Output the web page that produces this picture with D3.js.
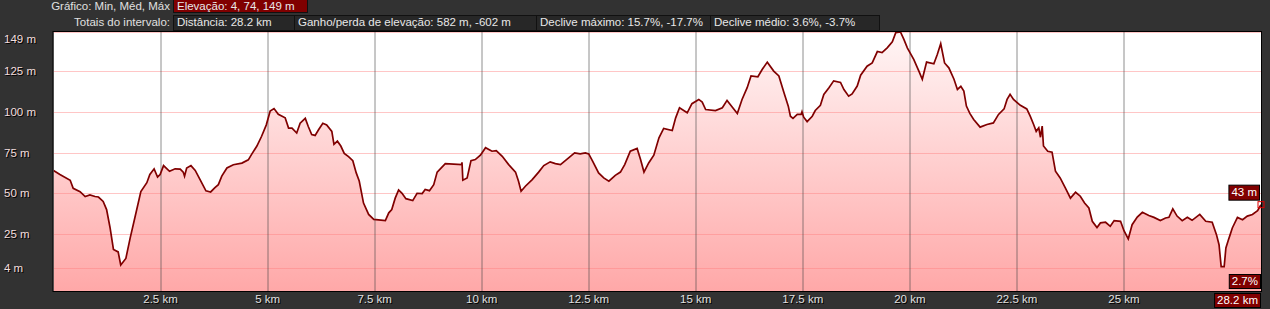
<!DOCTYPE html>
<html>
<head>
<meta charset="utf-8">
<script src="https://cdn.jsdelivr.net/npm/d3@7"></script>
<style>
  body { margin: 0; background: #323232; }
  svg { display: block; font-family: "Liberation Sans", Arial, sans-serif; font-size: 11.5px; }
</style>
</head>
<body>
<svg id="chart"></svg>
<script>
// distance along the track (km) and elevation (m)
const distKm = [0, 0.15, 0.39, 0.46, 0.62, 0.74, 0.85, 0.97, 1.05, 1.16, 1.24, 1.32, 1.40, 1.51, 1.57, 1.69, 1.79, 1.90,
  2.04, 2.18, 2.25, 2.35, 2.43, 2.49, 2.57, 2.71, 2.84, 2.96, 3.03, 3.06, 3.11, 3.21, 3.31, 3.42, 3.56, 3.67, 3.77,
  3.85, 3.93, 4.05, 4.20, 4.40, 4.55, 4.63, 4.75, 4.86, 4.97, 5.06, 5.15, 5.25, 5.41, 5.49, 5.57, 5.68, 5.76, 5.88,
  5.95, 6.03, 6.11, 6.19, 6.29, 6.38, 6.50, 6.55, 6.63, 6.71, 6.79, 6.89, 6.99, 7.07, 7.14, 7.24, 7.36, 7.48, 7.75,
  7.83, 7.90, 7.98, 8.06, 8.14, 8.23, 8.39, 8.49, 8.61, 8.68, 8.78, 8.88, 8.96, 9.15, 9.53, 9.54, 9.56, 9.66, 9.75,
  9.85, 9.97, 10.09, 10.24, 10.34, 10.48, 10.63, 10.79, 10.86, 10.92, 11.02, 11.18, 11.33, 11.45, 11.60, 11.72,
  11.84, 12.03, 12.17, 12.30, 12.42, 12.50, 12.59, 12.73, 12.85, 12.97, 13.12, 13.24, 13.34, 13.47, 13.63, 13.71,
  13.79, 13.90, 14.02, 14.14, 14.25, 14.45, 14.53, 14.62, 14.80, 14.91, 15.07, 15.15, 15.23, 15.46, 15.62, 15.73,
  15.85, 15.97, 16.08, 16.20, 16.29, 16.45, 16.55, 16.67, 16.82, 16.94, 17.06, 17.16, 17.21, 17.27, 17.37, 17.46,
  17.48, 17.52, 17.60, 17.72, 17.79, 17.91, 17.99, 18.11, 18.22, 18.38, 18.46, 18.57, 18.65, 18.77, 18.85, 19.00,
  19.12, 19.24, 19.35, 19.47, 19.59, 19.67, 19.78, 19.86, 19.94, 20.09, 20.21, 20.29, 20.39, 20.56, 20.64, 20.72,
  20.81, 20.91, 21.03, 21.11, 21.19, 21.26, 21.32, 21.40, 21.49, 21.64, 21.80, 21.95, 22.07, 22.20, 22.27, 22.34,
  22.42, 22.58, 22.73, 22.81, 22.89, 22.95, 23.01, 23.05, 23.09, 23.12, 23.22, 23.32, 23.40, 23.51, 23.63, 23.75,
  23.87, 23.98, 24.08, 24.18, 24.26, 24.37, 24.45, 24.57, 24.68, 24.77, 24.92, 25.00, 25.10, 25.19, 25.31, 25.43,
  25.58, 25.70, 25.85, 25.97, 26.05, 26.14, 26.24, 26.36, 26.48, 26.59, 26.77, 26.91, 27.06, 27.16, 27.22, 27.27,
  27.34, 27.38, 27.44, 27.48, 27.53, 27.65, 27.77, 27.88, 28.00, 28.12, 28.2];
const elevM = [64, 61.5, 58, 53, 51, 48, 49, 48, 47.7, 45, 40, 29, 15.5, 14, 6, 10, 22.5, 35,
  51, 56.5, 61.5, 65, 60, 61.5, 67, 63.5, 65, 64.8, 63, 60.5, 65.5, 67, 64, 58.5, 51.5, 50.8, 53.5,
  55.3, 60.5, 65.5, 67.5, 68.5, 70.5, 74, 79, 85, 92, 100.5, 102, 98.5, 96.3, 90, 90, 87, 93, 96,
  91, 86, 85.5, 89, 93, 92, 88, 80, 82, 79, 74.5, 72.5, 70, 62.5, 57.5, 44, 37, 34, 33.2,
  38, 40, 47, 52, 50, 46.7, 45.5, 50, 49.8, 52.3, 51.6, 55.3, 63, 68.2, 67.6, 69, 58, 59.4, 70,
  70.7, 73.4, 78, 75.8, 76.2, 72.7, 67.6, 63, 57.4, 51.2, 54.3, 58.4, 63, 67, 69.3, 68.2,
  67.6, 71.7, 74.8, 74.2, 74.8, 74.2, 69.7, 62.5, 59.4, 57.4, 61, 63, 67.6, 75.8, 77.5, 70.7,
  63, 68.6, 73.4, 84, 89.8, 88.5, 96.3, 102.5, 99.4, 105, 107.6, 106, 101.4, 100.8, 102.5, 107,
  103, 99, 107.6, 114.8, 122, 121.5, 126, 130.5, 125, 122, 111.7, 103.5, 97.3, 96, 98.4, 98.4,
  100, 96.7, 94, 97.3, 100.8, 104, 110.7, 114.8, 119, 118, 113.7, 109.6, 111, 115.8, 122.5, 128,
  130, 137, 136.3, 139.3, 143, 148.6, 149, 144.5, 139.3, 132.2, 125, 120, 130.5, 129.5, 135.2, 141.8,
  130, 127, 120, 113.7, 115.6, 112.7, 103.5, 99, 95.3, 90.6, 92.2, 93.2, 98.4, 101.8, 107.6, 110.7,
  107.6, 104, 101.8, 97.3, 92.2, 88, 90.2, 84.4, 91.2, 79, 75.8, 75.2, 63.5, 59.4, 53.3, 47,
  50.6, 48.2, 44, 41, 32.8, 29, 31.8, 32.2, 29.7, 33.2, 32.8, 27, 22, 30.7, 35.4, 38.3,
  36.3, 35.2, 33.2, 34.8, 35.2, 40.4, 36, 33.2, 35.2, 33.4, 37, 32.8, 32.2, 24.6, 18.4, 5,
  5, 16.4, 21.5, 24.6, 28.7, 35.2, 33.8, 36, 37, 39.3, 43];

const yTicks = [4, 25, 50, 75, 100, 125, 149];
const xTicks = [2.5, 5, 7.5, 10, 12.5, 15, 17.5, 20, 22.5, 25];
const headerRow1 = { title: "Gráfico: Min, Méd, Máx", boxes: ["Elevação: 4, 74, 149 m"] };
const headerRow2 = {
  title: "Totais do intervalo:",
  boxes: ["Distância: 28.2 km", "Ganho/perda de elevação: 582 m, -602 m",
    "Declive máximo: 15.7%, -17.7%", "Declive médio: 3.6%, -3.7%"]
};
const endLabels = { elev: "43 m", grade: "2.7%", dist: "28.2 km" };

const W = 1270, H = 309;
const margin = { top: 32, right: 9, bottom: 18, left: 53.5 };
const innerW = W - margin.left - margin.right;
const innerH = H - margin.top - margin.bottom;

// header box widths (layout)
const row1Widths = [134];
const row2Widths = [121, 242, 174, 169];

const svg = d3.select("#chart").attr("width", W).attr("height", H);
svg.append("rect").attr("width", W).attr("height", H).attr("fill", "#323232");

const x = d3.scaleLinear().domain([0, 28.2]).range([0, innerW]);
const y = d3.scaleLinear().domain([-10, 149]).range([innerH, 0]);

const data = distKm.map((d, i) => ({ d, e: elevM[i] }));

// gradient for the area
const defs = svg.append("defs");
const grad = defs.append("linearGradient").attr("id", "fillGrad")
  .attr("x1", 0).attr("y1", 0).attr("x2", 0).attr("y2", 1);
grad.append("stop").attr("offset", "0%").attr("stop-color", "#fff6f6");
grad.append("stop").attr("offset", "100%").attr("stop-color", "#ffa8a8");
defs.append("clipPath").attr("id", "plotClip")
  .append("rect").attr("width", innerW).attr("height", innerH);

// header
function headerRow(row, widths, ty, boxY, boxH, first) {
  svg.append("text").attr("x", 170).attr("y", ty).attr("text-anchor", "end")
    .attr("fill", "#e0e0e0").text(row.title);
  let bx = 173;
  row.boxes.forEach((label, i) => {
    svg.append("rect")
      .attr("x", bx + 0.5).attr("y", boxY + 0.5).attr("width", widths[i]).attr("height", boxH)
      .attr("fill", first ? "#800000" : "#272727").attr("stroke", "#111");
    svg.append("text").attr("x", bx + 4).attr("y", ty).attr("fill", "#e8e8e8").text(label);
    bx += widths[i];
  });
}
headerRow(headerRow1, row1Widths, 10, -1, 13, true);
headerRow(headerRow2, row2Widths, 26, 15, 15, false);

const g = svg.append("g").attr("transform", `translate(${margin.left},${margin.top})`);

g.append("rect").attr("width", innerW).attr("height", innerH).attr("fill", "#fff");

const plot = g.append("g").attr("clip-path", "url(#plotClip)");

plot.append("path").datum(data)
  .attr("fill", "url(#fillGrad)")
  .attr("d", d3.area().x(d => x(d.d)).y0(innerH).y1(d => y(d.e)));

// horizontal grid
plot.selectAll(".hgrid").data(yTicks).join("line")
  .attr("x1", 0).attr("x2", innerW)
  .attr("y1", d => Math.round(y(d)) + 0.5).attr("y2", d => Math.round(y(d)) + 0.5)
  .attr("stroke", "#ff8080").attr("stroke-opacity", 0.45);

// vertical grid
plot.selectAll(".vgrid").data(xTicks).join("line")
  .attr("x1", d => Math.round(x(d)) + 0.5).attr("x2", d => Math.round(x(d)) + 0.5)
  .attr("y1", 0).attr("y2", innerH)
  .attr("stroke", "#444").attr("stroke-opacity", 0.6);

plot.append("path").datum(data)
  .attr("fill", "none").attr("stroke", "#800000").attr("stroke-width", 1.7)
  .attr("stroke-linejoin", "miter")
  .attr("d", d3.line().x(d => x(d.d)).y(d => y(d.e)));

g.append("rect").attr("x", -0.5).attr("y", -0.5).attr("width", innerW + 1).attr("height", innerH + 1)
  .attr("fill", "none").attr("stroke", "#000");

// y labels
svg.selectAll(".ylab").data(yTicks).join("text")
  .attr("x", 4)
  .attr("y", d => Math.max(margin.top + y(d) + 4, 43))
  .attr("fill", "#f2dede")
  .style("text-shadow", "1px 1px 0 #000")
  .text(d => `${d} m`);

// x labels
svg.selectAll(".xlab").data(xTicks).join("text")
  .attr("x", d => margin.left + x(d))
  .attr("y", 303)
  .attr("text-anchor", "middle")
  .attr("fill", "#e0e0e0")
  .style("text-shadow", "1px 1px 0 #000")
  .text(d => `${d} km`);

// end-of-track labels
const last = data[data.length - 1];
const ex = margin.left + x(last.d), ey = margin.top + y(last.e);
svg.append("rect").attr("x", ex - 3).attr("y", ey - 3).attr("width", 6).attr("height", 6)
  .attr("fill", "none").attr("stroke", "#e00000");

function valueBox(label, right, top, h) {
  const t = svg.append("text").attr("y", top + h - 3.5).attr("fill", "#fff")
    .attr("text-anchor", "end").attr("x", right - 2).text(label);
  const w = t.node().getComputedTextLength() + 5;
  svg.insert("rect", "text:last-of-type")
    .attr("x", right - w + 0.5).attr("y", top + 0.5).attr("width", w).attr("height", h)
    .attr("fill", "#800000").attr("stroke", "#000");
  t.raise();
}
valueBox(endLabels.elev, 1259, ey - 20, 15);
valueBox(endLabels.grade, 1260, 274, 14);
valueBox(endLabels.dist, 1260, 293, 14);
</script>
</body>
</html>
